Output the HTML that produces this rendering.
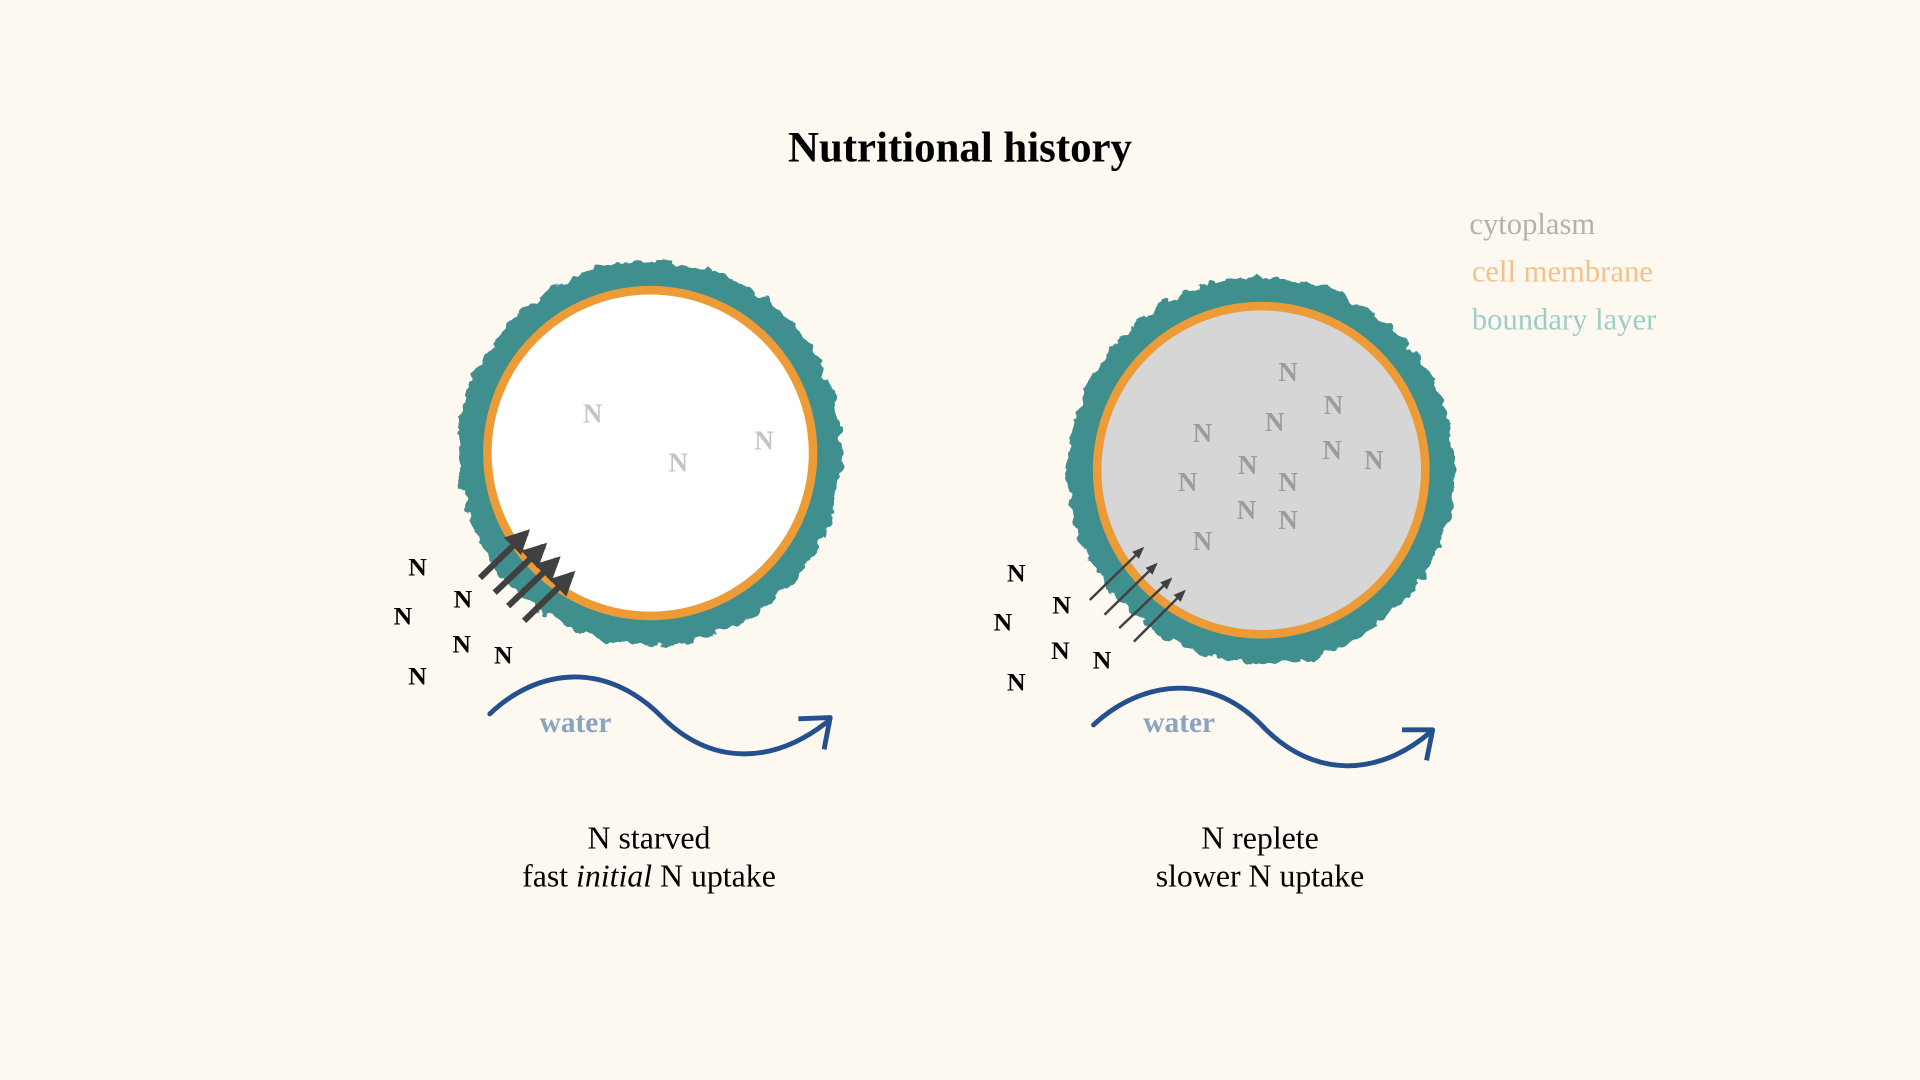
<!DOCTYPE html>
<html><head><meta charset="utf-8"><style>
html,body{margin:0;padding:0;background:#fdf9f1;width:1920px;height:1080px;overflow:hidden}
svg{display:block}
text{font-family:"Liberation Serif",serif}
</style></head><body>
<svg width="1920" height="1080" viewBox="0 0 1568 882" xmlns="http://www.w3.org/2000/svg">
<defs>
<filter id="rough" x="-20%" y="-20%" width="140%" height="140%">
<feTurbulence type="fractalNoise" baseFrequency="0.09" numOctaves="3" seed="3"/>
<feDisplacementMap in="SourceGraphic" scale="11" xChannelSelector="R" yChannelSelector="G"/>
</filter>
<filter id="rough2" x="-20%" y="-20%" width="140%" height="140%">
<feTurbulence type="fractalNoise" baseFrequency="0.09" numOctaves="3" seed="8"/>
<feDisplacementMap in="SourceGraphic" scale="11" xChannelSelector="R" yChannelSelector="G"/>
</filter>
<marker id="ah" viewBox="0 0 10 10" refX="8" refY="5" markerWidth="4" markerHeight="4" orient="auto"><path d="M0,0 L10,5 L0,10 z" fill="#404040"/></marker>
<marker id="ah2" viewBox="0 0 10 10" refX="8" refY="5" markerWidth="5" markerHeight="5" orient="auto"><path d="M0,1 L10,5 L0,9 z" fill="#404040"/></marker>
</defs>
<rect width="1568" height="882" fill="#fdf9f1"/>
<text x="784" y="132" font-size="35" font-weight="bold" text-anchor="middle">Nutritional history</text>
<text x="1200" y="191" font-size="25" fill="#b3b1ad">cytoplasm</text>
<text x="1202" y="230" font-size="25" fill="#f5c08a">cell membrane</text>
<text x="1202" y="269" font-size="25" fill="#9ecdc6">boundary layer</text>

<!-- left cell -->
<circle cx="531" cy="370" r="145" fill="none" stroke="#418f8f" stroke-width="24" filter="url(#rough)"/>
<circle cx="531" cy="370" r="133" fill="#ffffff" stroke="#ed9b36" stroke-width="7"/>
<g font-size="22" font-weight="bold" fill="#c4c4c4" text-anchor="middle">
<text x="484" y="345">N</text><text x="554" y="385">N</text><text x="624" y="367">N</text></g>
<g stroke="#404040" stroke-width="5" marker-end="url(#ah)">
<line x1="392" y1="472" x2="430" y2="435"/><line x1="404" y1="484" x2="444" y2="446"/>
<line x1="415" y1="495" x2="455" y2="457"/><line x1="428" y1="507" x2="467" y2="469"/></g>
<g font-size="21" font-weight="bold" fill="#000" text-anchor="middle">
<text x="341" y="470">N</text><text x="378" y="496">N</text><text x="329" y="510">N</text>
<text x="377" y="533">N</text><text x="411" y="542">N</text><text x="341" y="559">N</text></g>
<path d="M400,583 C440,545 495,540 540,585 C580,625 630,625 675,590" fill="none" stroke="#24508f" stroke-width="4" stroke-linecap="round"/>
<path d="M652,587 L678,586 L673,612" fill="none" stroke="#24508f" stroke-width="4" stroke-linejoin="round"/>
<text x="470" y="598" font-size="24" font-weight="bold" fill="#8aa3c0" text-anchor="middle">water</text>
<text x="530" y="693" font-size="26" text-anchor="middle">N starved</text>
<text x="530" y="724" font-size="26" text-anchor="middle">fast <tspan font-style="italic">initial</tspan> N uptake</text>

<!-- right cell -->
<circle cx="1030" cy="384" r="146" fill="none" stroke="#418f8f" stroke-width="24" filter="url(#rough2)"/>
<circle cx="1030" cy="384" r="134" fill="#d6d6d6" stroke="#ed9b36" stroke-width="7"/>
<g font-size="22" font-weight="bold" fill="#9c9c9c" text-anchor="middle">
<text x="1052" y="311">N</text><text x="1089" y="338">N</text><text x="1041" y="352">N</text>
<text x="982" y="361">N</text><text x="1088" y="375">N</text><text x="1122" y="383">N</text>
<text x="1019" y="387">N</text><text x="970" y="401">N</text><text x="1052" y="401">N</text>
<text x="1018" y="424">N</text><text x="1052" y="432">N</text><text x="982" y="449">N</text></g>
<g stroke="#404040" stroke-width="2" marker-end="url(#ah2)">
<line x1="890" y1="490" x2="933" y2="448"/><line x1="902" y1="502" x2="944" y2="461"/>
<line x1="914" y1="513" x2="956" y2="473"/><line x1="926" y1="524" x2="967" y2="483"/></g>
<g font-size="21" font-weight="bold" fill="#000" text-anchor="middle">
<text x="830" y="475">N</text><text x="867" y="501">N</text><text x="819" y="515">N</text>
<text x="866" y="538">N</text><text x="900" y="546">N</text><text x="830" y="564">N</text></g>
<path d="M893,592 C933,555 990,548 1033,595 C1073,635 1125,635 1168,598" fill="none" stroke="#24508f" stroke-width="4" stroke-linecap="round"/>
<path d="M1145,596 L1170,596 L1165,621" fill="none" stroke="#24508f" stroke-width="4" stroke-linejoin="round"/>
<text x="963" y="598" font-size="24" font-weight="bold" fill="#8aa3c0" text-anchor="middle">water</text>
<text x="1029" y="693" font-size="26" text-anchor="middle">N replete</text>
<text x="1029" y="724" font-size="26" text-anchor="middle">slower N uptake</text>
</svg>
</body></html>
